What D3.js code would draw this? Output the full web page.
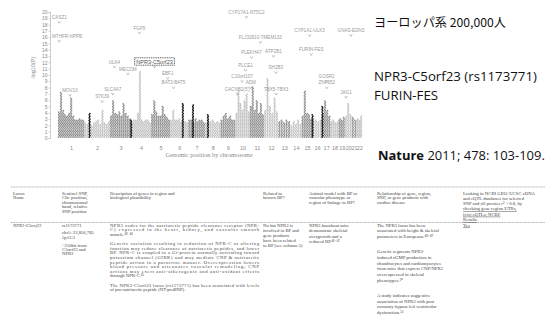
<!DOCTYPE html>
<html><head><meta charset="utf-8">
<script src="https://cdn.jsdelivr.net/npm/d3@7"></script>
<style>body{margin:0;background:#fff}svg{display:block}</style>
</head><body><svg id="c" width="546" height="325"></svg>
<script>
// ---------------- DATA ----------------
const chromosomes = ["1","2","3","4","5","6","7","8","9","10","11","12","13","14","15","16","17","18","19","20","21","22"];
const chromLengthMb = [249,243,198,191,181,171,159,146,141,136,135,134,115,107,102,90,81,78,59,63,48,51];
// peak -log10(P) in consecutive windows along each chromosome
const binPeaks = [
  [4.2,7.3,4.5,3.8,3.6,4.0,6.5,3.5,3.0,2.9,3.2,2.9,3.0],
  [2.5,2.2,2.8,2.0,2.4,2.6,3.0,2.2,4.5,2.5,2.3,2.6],
  [3.5,6.0,4.0,3.8,4.2,3.6,5.5,4.0,3.5,3.2],
  [2.5,2.8,3.0,4.0,10.5,3.0,2.6,2.8,3.0,2.5],
  [3.8,6.0,4.2,3.5,3.6,5.0,3.8,3.4,3.0],
  [3.0,4.5,3.0,2.8,3.2,2.6,3.0,2.7,2.5],
  [2.8,3.0,2.5,3.2,2.6,2.8,3.0,2.4],
  [2.5,2.8,2.6,3.0,2.4,2.7,2.5],
  [3.0,3.5,4.0,3.2,3.6,3.0,2.8],
  [4.0,7.6,5.5,4.5,6.0,7.0,4.2],
  [5.0,8.1,4.5,6.0,4.0,5.5,3.8],
  [4.5,9.5,5.0,4.0,6.5,4.2],
  [2.6,2.8,2.5,3.0,2.6],
  [2.0,2.6,2.2,2.8,2.3],
  [3.5,7.5,4.0,3.8,3.2],
  [2.8,3.0,2.6,2.8],
  [4.0,6.0,4.5,3.6],
  [2.6,2.8,2.4,2.7],
  [3.2,3.0,3.4],
  [3.6,5.5,3.8],
  [3.4,3.0],
  [3.2,3.0,3.5]
];
// highlighted (dark) SNP columns
const highlightChr = ["2","4","6","7","8","16","17"];
const highlightPos = [50,3,120,45,28,2,5];
const highlightTop = [4.1,2.9,5.5,5.4,3.7,3.7,5.0];
// annotated loci
const lociGene = ["CASZ1","MTHFR-NPPB","MOV10","STK39","SLC4A7","ULK4","MECOM","FGF5","NPR3-C5orf23","EBF1","BAT2-BAT5","CACNB2(5')","C10orf107","PLCE1","CYP17A1-NT5C2","ADM","PLEKHA7","FLJ32810-TMEM133","ATP2B1","SH2B3","TBX5-TBX3","CYP1A1-ULK3","FURIN-FES","GOSR2","ZNF652","JAG1","GNAS-EDN3"];
const lociChr  = ["1","1","1","2","3","3","3","4","5","5","6","10","10","10","10","11","11","11","12","12","12","15","15","17","17","20","20"];
const lociPos  = [10.7,11.8,113.2,169,27,41.9,169,81,32.8,158,31.6,18.4,63.5,96,104.8,10.4,16.9,100.6,90,111.9,115.4,75,91.4,45,47.4,10.6,57.7];
const lociLogP = [18.4,15.4,6.8,5.8,7.0,11.3,10.2,16.7,11.3,9.5,8.0,7.0,9.0,10.8,19.2,8.0,12.8,15.2,13.0,10.4,7.0,16.3,13.3,9.0,8.0,6.5,16.3];
const boxedLocus = "NPR3-C5orf23";
const yTickValues = [0,1,2,3,4,5,6,7,8,9,10,11,12,13,14,15,16,17,18,19,20];
const yAxisTitle = "-log10(P)";
const xAxisTitle = "Genomic position by chromosome";

const rightTitle = "ヨーロッパ系  200,000人";
const rightLoci = ["NPR3-C5orf23 (rs1173771)", "FURIN-FES"];
const citeJournal = "Nature";
const citeRest = " 2011; 478: 103-109.";

// table
const tableHeaders = [
  ["Locus","Name"],
  ["Sentinel SNP,","Chr. position,","chromosomal","band, relative","SNP position"],
  ["Description of genes in region and","biological plausibility"],
  ["Related to","known BP?"],
  ["Animal model with BP or","vascular phenotype or","region of linkage to BP?"],
  ["Relationship of gene, region,","SNP, or gene products with","cardiac disease"],
  ["Looking in NCBI GEO/ UCSC cDNA","and eQTL databases for selected","SNP and all proxies r² > 0.8, by","checking gene region UTRs,","(cis) eQTLs; NCBI/","Results"]
];
const tableBody = [
  [["NPR3-C5orf23"]],
  [["rs1173771"],["chr5: 32,850,785","5p13.3"],["~250kb from","C5orf23 and","NPR3"]],
  [["NPR3 codes for the natriuretic peptide clearance receptor (NPR-","C) expressed in the heart, kidney, and vascular smooth","muscle.⁴²⁻⁴⁴"],
   ["Genetic variation resulting in reduction of NPR-C or altering","function may reduce clearance of natriuretic peptides, and lower","BP. NPR-C is coupled to a Gi-protein normally activating inward","potassium channel (GIRK) and may mediate CNP & natriuretic","peptide action in a paracrine manner. Overexpression lowers","blood pressure and attenuates vascular remodeling; CNP","actions may exert anti-atherogenic and anti-oxidant effects","through NPR-C.⁴⁵"],
   ["The NPR3-C5orf23 locus (rs1173771) has been associated with levels","of pro-natriuretic peptide (NT-proBNP)."]],
  [["No but NPR3 is","involved in BP and","gene products","have been related","to BP (see column 5)"]],
  [["NPR3 knockout mice","demonstrate skeletal","overgrowth and a","reduced BP.⁴⁶⁻⁴⁷"]],
  [["The NPR3 locus has been","associated with height & skeletal","parameters in Europeans.⁴⁸⁻⁴⁹"],
   ["Genetic segments NPR3-","induced cGMP production in","chondrocytes and cardiomyocytes","from mice that express CNP/NPR3","overexpressed in skeletal","phenotypes.⁵⁰"],
   ["A study indicates suggestive","association of NPR3 with post","coronary bypass left ventricular","dysfunction.⁵¹"]],
  [["Yes"]]
];

// ---------------- DRAW ----------------
const svg = d3.select("#c");
const g = svg.append("g");

const starts = [];
let acc = 0;
chromLengthMb.forEach(l => { starts.push(acc); acc += l; });
const total = acc;
const chrIndex = c => chromosomes.indexOf(c);
const x = d3.scaleLinear().domain([0, total]).range([58, 362]);
const y = d3.scaleLinear().domain([0, 20]).range([138, 12]);
const gx = (c, pos) => x(starts[chrIndex(c)] + pos);

// column dots
const step = 0.22;
const dots = [];
binPeaks.forEach((arr, ci) => {
  const n = arr.length;
  arr.forEach((top, j) => {
    const pos = (j + 0.5) / n * chromLengthMb[ci];
    let k = 0;
    for (let v = 0.15; v <= top; v += step, k++) {
      dots.push({cx: x(starts[ci] + pos) + (k % 2 ? 0.35 : -0.35), cy: y(v), odd: ci % 2 === 0});
    }
  });
});
g.append("g").selectAll("circle").data(dots).join("circle")
  .attr("cx", d => d.cx).attr("cy", d => d.cy).attr("r", 0.85)
  .attr("fill", d => d.odd ? "#8e8e8e" : "#c2c2c2");

// highlighted dark columns
const hdots = [];
highlightChr.forEach((c, i) => {
  let k = 0;
  for (let v = 0.15; v <= highlightTop[i]; v += step, k++) {
    hdots.push({cx: gx(c, highlightPos[i]) + (k % 2 ? 0.3 : -0.3), cy: y(v)});
  }
});
g.append("g").selectAll("circle").data(hdots).join("circle")
  .attr("cx", d => d.cx).attr("cy", d => d.cy).attr("r", 0.85).attr("fill", "#151515");

// y axis (tick labels column)
const yAxisG = g.append("g").attr("transform", "translate(50,0)")
  .call(d3.axisLeft(y).tickValues(yTickValues).tickSize(1.5).tickPadding(1));
yAxisG.select(".domain").attr("stroke", "#aaa").attr("stroke-width", 0.6);
yAxisG.selectAll(".tick line").attr("stroke", "#aaa").attr("stroke-width", 0.5);
yAxisG.selectAll("text").attr("font-size", 5).attr("fill", "#8a8a8a").attr("font-family", "Liberation Sans");

g.append("text").attr("transform", "translate(35,68) rotate(-90)")
  .attr("text-anchor", "middle").attr("font-size", 5.5).attr("fill", "#8a8a8a")
  .attr("font-family", "Liberation Sans").text(yAxisTitle);

// x axis tick labels at chromosome centres
const xAxisG = g.append("g").attr("transform", "translate(0,141)")
  .call(d3.axisBottom(x).tickValues(chromosomes.map((c, i) => starts[i] + chromLengthMb[i] / 2))
    .tickFormat((d, i) => chromosomes[i]).tickSize(0).tickPadding(5));
xAxisG.select(".domain").remove();
xAxisG.selectAll("text").attr("font-size", 5.5).attr("fill", "#8a8a8a").attr("font-family", "Liberation Sans");

g.append("text").attr("x", 209).attr("y", 157).attr("text-anchor", "middle")
  .attr("font-size", 6.3).attr("fill", "#8a8a8a").attr("font-family", "Liberation Serif").text(xAxisTitle);

// annotations
const ann = g.append("g");
lociGene.forEach((gene, i) => {
  const ax = gx(lociChr[i], lociPos[i]);
  const ay = y(lociLogP[i]);
  ann.append("path").attr("d", `M${ax - 1.3},${ay - 1} L${ax},${ay + 1.2} L${ax + 1.3},${ay - 1}`)
    .attr("fill", "none").attr("stroke", "#999").attr("stroke-width", 0.6);
  const t = ann.append("text").attr("x", ax).attr("y", ay - 3.2).attr("text-anchor", "middle")
    .attr("font-size", gene === boxedLocus ? 5.6 : 4.6)
    .attr("fill", gene === boxedLocus ? "#555" : "#9a9a9a")
    .attr("font-family", "Liberation Sans").text(gene);
  let bb = t.node().getBBox();
  if (bb.x < 52) { t.attr("x", ax + (52 - bb.x)); bb = t.node().getBBox(); }
  if (bb.x + bb.width > 366) { t.attr("x", +t.attr("x") - (bb.x + bb.width - 366)); bb = t.node().getBBox(); }
  if (gene === boxedLocus) {
    ann.append("rect").attr("x", bb.x - 1.5).attr("y", bb.y - 0.8)
      .attr("width", bb.width + 3).attr("height", bb.height + 1.4)
      .attr("fill", "none").attr("stroke", "#222").attr("stroke-width", 0.8)
      .attr("stroke-dasharray", "1,0.8");
  }
});

// right side text
function fitWidth(sel, w) {
  const cur = sel.node().getComputedTextLength();
  const fs = parseFloat(sel.attr("font-size"));
  sel.attr("font-size", fs * w / cur);
  return fs * w / cur;
}
const rt = svg.append("text").attr("x", 374).attr("y", 27).attr("font-size", 12)
  .attr("font-family", "Noto Sans CJK JP").attr("fill", "#111").text(rightTitle);
fitWidth(rt, 132);
let locFs = 14;
rightLoci.forEach((s, i) => {
  const t = svg.append("text").attr("x", 374).attr("y", 81 + i * 19).attr("font-size", locFs)
    .attr("font-family", "Open Sans").attr("fill", "#111").text(s);
  if (i === 0) locFs = fitWidth(t, 163);
});

const cite = svg.append("text").attr("x", 378).attr("y", 160).attr("font-size", 14)
  .attr("font-family", "Open Sans").attr("fill", "#111");
cite.append("tspan").attr("font-weight", "bold").text(citeJournal);
cite.append("tspan").text(citeRest);
fitWidth(cite, 167);

// table
const tg = svg.append("g").attr("font-family", "Liberation Serif").attr("fill", "#444");
const colX = [13, 62, 110, 263, 309, 377, 463];
const colW = [44, 40, 149, 42, 60, 80, 78];
const bodyLH = [4.6, 4.4, 4.6, 5.2, 5.6, 5.8, 5.0];
const paraGap = [0, 3.4, 4.8, 0, 0, 9, 0];
tg.append("line").attr("x1", 11).attr("x2", 545).attr("y1", 187).attr("y2", 187)
  .attr("stroke", "#555").attr("stroke-width", 0.6).attr("stroke-dasharray", "0.8,0.8");
tg.append("line").attr("x1", 11).attr("x2", 545).attr("y1", 222.5).attr("y2", 222.5)
  .attr("stroke", "#555").attr("stroke-width", 0.6).attr("stroke-dasharray", "0.8,0.8");
tableHeaders.forEach((lines, ci) => {
  const lh = ci === 6 ? 5.3 : 4.6;
  lines.forEach((s, li) => {
    const t = tg.append("text").attr("x", colX[ci]).attr("y", 194.5 + li * lh)
      .attr("font-size", 4.7).text(s);
    if (ci === 6 && li >= 3) t.attr("text-decoration", "underline");
  });
});
tableBody.forEach((paras, ci) => {
  let yy = 226.5;
  paras.forEach(lines => {
    lines.forEach((s, li) => {
      const t = tg.append("text").attr("x", colX[ci]).attr("y", yy).attr("font-size", 4.7)
        .attr("font-style", ci === 0 ? "italic" : null).text(s);
      if (ci === 2 && li < lines.length - 1) t.attr("textLength", colW[ci]).attr("lengthAdjust", "spacing");
      if (ci === 6) t.attr("text-decoration", "underline");
      yy += bodyLH[ci];
    });
    yy += paraGap[ci];
  });
});
</script>
</body></html>
